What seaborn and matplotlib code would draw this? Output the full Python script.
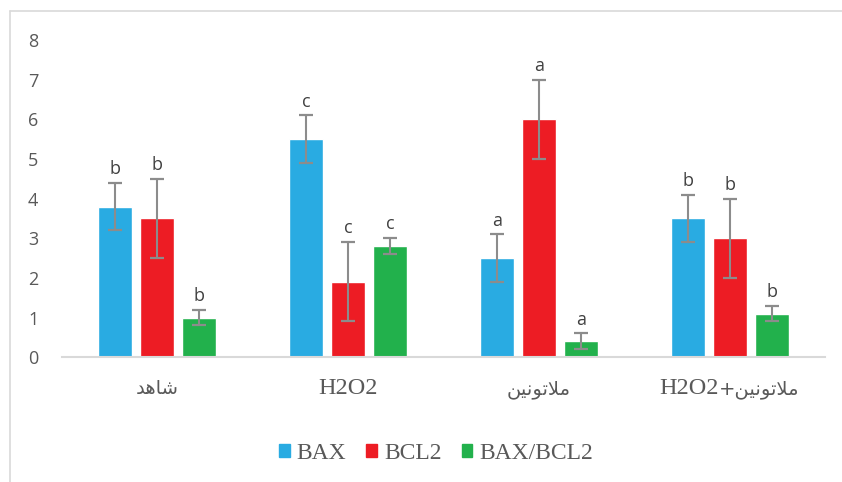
import numpy as np
import pandas as pd
import matplotlib
matplotlib.use("Agg")
import matplotlib.pyplot as plt
import seaborn as sns
from matplotlib.patches import Rectangle
from matplotlib.transforms import blended_transform_factory, ScaledTranslation

# ---- data -------------------------------------------------------------
groups = ["شاهد", "H2O2", "ملاتونین", "ملاتونین+H2O2"]
series = ["BAX", "BCL2", "BAX/BCL2"]
bax = [3.8, 5.5, 2.5, 3.5]
bcl2 = [3.5, 1.9, 6.0, 3.0]
ratio = [1.0, 2.8, 0.4, 1.1]
bax_err = [0.6, 0.6, 0.6, 0.6]
bcl2_err = [1.0, 1.0, 1.0, 1.0]
ratio_err = [0.2, 0.2, 0.2, 0.2]
bax_sig = ["b", "c", "a", "b"]
bcl2_sig = ["b", "c", "a", "b"]
ratio_sig = ["b", "c", "a", "b"]
colors = ["#29ABE2", "#ED1C24", "#22B14C"]

values = [bax, bcl2, ratio]
errors = [bax_err, bcl2_err, ratio_err]
letters = [bax_sig, bcl2_sig, ratio_sig]

# ---- minimal Persian shaping + RTL ordering (matplotlib has neither) ---
FORMS = {  # isolated, final, initial, medial
    "ا": (0xFE8D, 0xFE8E, None, None),
    "د": (0xFEA9, 0xFEAA, None, None),
    "و": (0xFEED, 0xFEEE, None, None),
    "ش": (0xFEB5, 0xFEB6, 0xFEB7, 0xFEB8),
    "ه": (0xFEE9, 0xFEEA, 0xFEEB, 0xFEEC),
    "م": (0xFEE1, 0xFEE2, 0xFEE3, 0xFEE4),
    "ل": (0xFEDD, 0xFEDE, 0xFEDF, 0xFEE0),
    "ت": (0xFE95, 0xFE96, 0xFE97, 0xFE98),
    "ن": (0xFEE5, 0xFEE6, 0xFEE7, 0xFEE8),
    "ی": (0xFBFC, 0xFBFD, 0xFBFE, 0xFBFF),
}
LAM_ALEF = (0xFEFB, 0xFEFC)


def _dual(ch):
    return ch in FORMS and FORMS[ch][2] is not None


def _is_latin(ch):
    return ch.isascii() and ch.isalnum()


def visual_runs(text):
    """Return [(segment, is_latin), ...] in left-to-right display order."""
    if not any(ch in FORMS for ch in text):
        return [(text, True)]
    glyphs, i, n = [], 0, len(text)
    while i < n:
        ch = text[i]
        if ch in FORMS:
            joins_prev = _dual(text[i - 1]) if i > 0 else False
            if ch == "ل" and i + 1 < n and text[i + 1] == "ا":
                glyphs.append(chr(LAM_ALEF[1] if joins_prev else LAM_ALEF[0]))
                i += 2
                continue
            nxt = text[i + 1] if i + 1 < n else ""
            joins_next = _dual(ch) and nxt in FORMS
            iso, fin, ini, med = FORMS[ch]
            g = (med if joins_prev and joins_next else fin if joins_prev
                 else ini if joins_next else iso)
            glyphs.append(chr(g))
        else:
            glyphs.append(ch)
        i += 1
    # right-to-left paragraph: reverse everything, then restore Latin runs
    glyphs.reverse()
    runs = []
    for g in glyphs:
        lat = _is_latin(g)
        if runs and runs[-1][1] == lat:
            runs[-1][0].append(g)
        else:
            runs.append([[g], lat])
    return [("".join(reversed(s)) if lat else "".join(s), lat)
            for s, lat in runs]


# ---- long-form table --------------------------------------------------
df = pd.DataFrame({
    "group": np.repeat(groups, len(series)),
    "series": series * len(groups),
    "value": np.array(values).T.ravel(),
})

# ---- figure -----------------------------------------------------------
sns.set_theme(style="white")
plt.rcParams["font.family"] = ["Open Sans", "DejaVu Sans"]

fig = plt.figure(figsize=(8.42, 4.82), dpi=100)
ax = fig.add_axes([0.0736, 0.259, 0.9064, 0.658])

sns.barplot(data=df, x="group", y="value", hue="series", order=groups,
            hue_order=series, palette=colors, width=0.66, gap=0.19,
            errorbar=None, saturation=1, ax=ax, legend=True)

bar_groups = list(ax.containers)
for k, cont in enumerate(bar_groups):
    xs = [p.get_x() + p.get_width() / 2 for p in cont.patches]
    hs = [p.get_height() for p in cont.patches]
    ax.errorbar(xs, hs, yerr=errors[k], fmt="none", ecolor="#8C8C8C",
                elinewidth=1.5, capsize=5, capthick=1.6, zorder=3)
    for x, h, e, t in zip(xs, hs, errors[k], letters[k]):
        ax.text(x, h + e + 0.12, t, ha="center", va="bottom",
                fontsize=13, color="#404040", family="Open Sans")

ax.set_ylim(0, 8)
ax.set_xlim(-0.5, 3.5)
ax.set_yticks(range(0, 9))
ax.set_xlabel("")
ax.set_ylabel("")
ax.set_xticks(range(len(groups)))
ax.set_xticklabels([])
ax.tick_params(axis="x", length=0)
ax.tick_params(axis="y", length=0, pad=17, labelsize=13, labelcolor="#595959")
for side in ["top", "right", "left"]:
    ax.spines[side].set_visible(False)
ax.spines["bottom"].set_color("#D9D9D9")
ax.spines["bottom"].set_linewidth(1.5)

# category labels: Latin in serif, Persian in DejaVu Sans, shared baseline
base = blended_transform_factory(ax.transData, ax.transAxes)
renderer = fig.canvas.get_renderer()
baseline_px = 37
for i, g in enumerate(groups):
    arts = []
    for seg, lat in visual_runs(g):
        style = (dict(family="Liberation Serif", fontsize=17.5) if lat
                 else dict(family="DejaVu Sans", fontsize=14))
        arts.append(ax.text(i, 0, seg, transform=base, ha="left",
                            va="baseline", color="#595959", **style))
    widths = [a.get_window_extent(renderer).width for a in arts]
    x0 = -sum(widths) / 2
    for a, w in zip(arts, widths):
        a.set_transform(base + ScaledTranslation(x0 / fig.dpi,
                                                 -baseline_px / fig.dpi,
                                                 fig.dpi_scale_trans))
        x0 += w

ax.legend_.remove()
handles = [Rectangle((0, 0), 1, 1, color=c) for c in colors]
fig.legend(handles, series, loc="center", bbox_to_anchor=(0.518, 0.06),
           ncol=3, frameon=False, handlelength=0.45, handleheight=0.45,
           handletextpad=0.3, columnspacing=0.85,
           prop={"family": "Liberation Serif", "size": 17},
           labelcolor="#595959")

# chart-area frame (top and left edges)
fig.add_artist(plt.Line2D([9.5 / 842, 1.0], [1 - 11 / 482, 1 - 11 / 482],
                          transform=fig.transFigure, color="#D9D9D9", lw=1.2))
fig.add_artist(plt.Line2D([9.5 / 842, 9.5 / 842], [0, 1 - 11 / 482],
                          transform=fig.transFigure, color="#D9D9D9", lw=1.2))

fig.savefig("out.png", dpi=100)
